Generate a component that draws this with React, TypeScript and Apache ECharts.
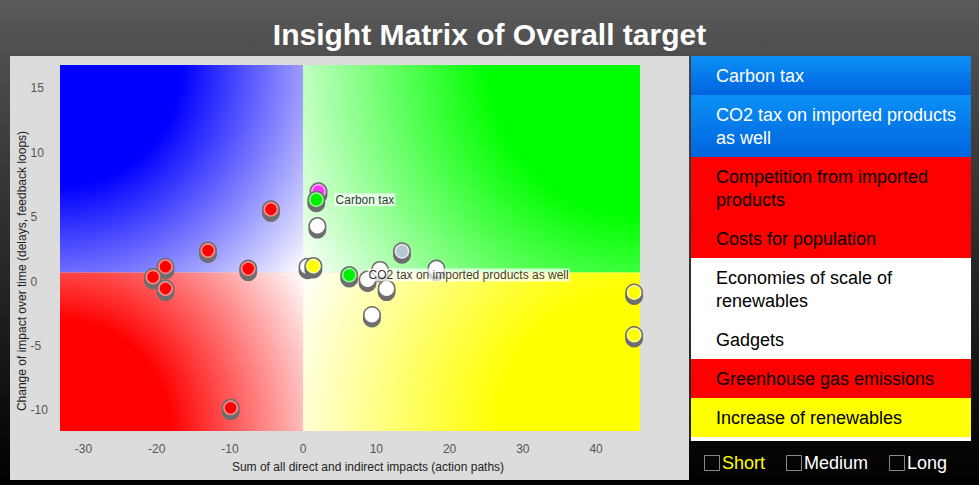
import React, { useEffect, useRef } from 'react';
import * as echarts from 'echarts';

const FONT = '"Liberation Sans", Arial, Helvetica, sans-serif';

const TITLE = 'Insight Matrix of Overall target';
const X_NAME = 'Sum of all direct and indirect impacts (action paths)';
const Y_NAME = 'Change of impact over time (delays, feedback loops)';

const X_RANGE = [-33.2, 46];
const Y_RANGE = [-11.6, 16.8];
const X_TICKS = [-30, -20, -10, 0, 10, 20, 30, 40];
const Y_TICKS = [-10, -5, 0, 5, 10, 15];
const QUADRANT_SPLIT = [0, 0.7];
// top-left, top-right, bottom-left, bottom-right
const QUADRANT_COLORS = ['#0000ff', '#00ff00', '#ff0000', '#ffff00'];

const pointX = [-4.4, -13.0, -18.8, -20.5, -7.5, -18.8, -9.9, 2.1, 1.8, 1.95, 0.6, 1.4, 6.3, 13.5, 10.5, 8.8, 11.4, 18.2, 9.4, 45.2, 45.2];
const pointY = [5.6, 2.4, 1.15, 0.35, 1.0, -0.55, -9.8, 7.0, 6.35, 4.3, 1.15, 1.2, 0.5, 2.35, 0.9, 0.15, -0.55, 1.0, -2.6, -0.85, -4.15];
const pointColor = [
  '#ff0000', '#ff0000', '#ff0000', '#ff0000', '#ff0000', '#ff0000', '#ff0000',
  '#ff33ff', '#00ee00', '#ffffff', '#ffffff', '#ffff00', '#00ee00', '#b4c6ce',
  '#ffffff', '#ffffff', '#ffffff', '#ffffff', '#ffffff', '#ffff00', '#ffff00',
];

const labelNames = ['Carbon tax', 'CO2 tax on imported products as well'];
const labelX = [1.8, 6.3];
const labelY = [6.35, 0.5];

const legendNames = [
  'Carbon tax',
  'CO2 tax on imported products as well',
  'Competition from imported products',
  'Costs for population',
  'Economies of scale of renewables',
  'Gadgets',
  'Greenhouse gas emissions',
  'Increase of renewables',
];
const legendGroups = ['selected', 'selected', 'red', 'red', 'white', 'white', 'red', 'yellow'];
const groupFill: Record<string, any> = {
  selected: new echarts.graphic.LinearGradient(0, 0, 0, 1, [
    { offset: 0, color: '#0b90f6' },
    { offset: 1, color: '#0064de' },
  ]),
  red: '#ff0000',
  white: '#ffffff',
  yellow: '#ffff00',
};
const groupText: Record<string, string> = { selected: '#ffffff', red: '#000000', white: '#000000', yellow: '#000000' };

const horizons = ['Short', 'Medium', 'Long'];
const horizonColors = ['#ffff00', '#ffffff', '#ffffff'];

function mixWhite(c: string, t: number) {
  const h = c.replace('#', '');
  const v = [0, 2, 4].map((i) => parseInt(h.slice(i, i + 2), 16));
  const m = v.map((x) => Math.round(x + (255 - x) * t));
  return `rgb(${m[0]},${m[1]},${m[2]})`;
}

let measureCtx: CanvasRenderingContext2D | null = null;
function measure(text: string, font: string) {
  if (!measureCtx) measureCtx = document.createElement('canvas').getContext('2d');
  measureCtx!.font = font;
  return measureCtx!.measureText(text).width;
}
function wrap(text: string, font: string, maxW: number) {
  const words = text.split(' ');
  const lines: string[] = [];
  let cur = '';
  for (const w of words) {
    const t = cur ? cur + ' ' + w : w;
    if (cur && measure(t, font) > maxW) {
      lines.push(cur);
      cur = w;
    } else cur = t;
  }
  if (cur) lines.push(cur);
  return lines;
}

function buildGraphic() {
  const els: any[] = [];
  els.push({ type: 'rect', z: -10, shape: { x: 10, y: 56, width: 679, height: 424 }, style: { fill: '#dcdcdc' } });
  els.push({
    type: 'text', x: 489.5, y: 34,
    style: { text: TITLE, fill: '#ffffff', font: `bold 30px ${FONT}`, align: 'center', verticalAlign: 'middle' },
  });
  els.push({
    type: 'text', x: 368, y: 466.5,
    style: { text: X_NAME, fill: '#222', font: `12px ${FONT}`, align: 'center', verticalAlign: 'middle' },
  });
  els.push({
    type: 'text', x: 22, y: 271, rotation: Math.PI / 2,
    style: { text: Y_NAME, fill: '#222', font: `12px ${FONT}`, align: 'center', verticalAlign: 'middle' },
  });
  const lx = 691, lw = 280, top = 56;
  const font = `18px ${FONT}`;
  els.push({ type: 'rect', shape: { x: lx, y: top, width: lw, height: 385 }, style: { fill: '#ffffff' } });
  let y = top;
  legendNames.forEach((name, i) => {
    const lines = wrap(name, font, 250);
    const h = 16 + 23 * lines.length;
    const g = legendGroups[i];
    els.push({ type: 'rect', shape: { x: lx, y, width: lw, height: h }, style: { fill: groupFill[g] } });
    els.push({
      type: 'text', x: 716, y: y + 8.5,
      style: { text: lines.join('\n'), fill: groupText[g], font, lineHeight: 23, align: 'left', verticalAlign: 'top' },
    });
    y += h;
  });
  els.push({ type: 'line', shape: { x1: 690, y1: top, x2: 690, y2: 441 }, style: { stroke: '#3a3a3a', lineWidth: 1 } });
  let cx = 704;
  horizons.forEach((h, i) => {
    els.push({ type: 'rect', shape: { x: cx + 0.5, y: 455.5, width: 15, height: 15 }, style: { fill: 'rgba(0,0,0,0)', stroke: '#8a8a8a', lineWidth: 1 } });
    els.push({
      type: 'text', x: cx + 18, y: 463,
      style: { text: h, fill: horizonColors[i], font, align: 'left', verticalAlign: 'middle' },
    });
    cx += 18 + measure(h, font) + 21;
  });
  return els;
}

export default function App() {
  const ref = useRef<HTMLDivElement>(null);
  useEffect(() => {
    if (!ref.current) return;
    const chart = echarts.init(ref.current, undefined, { renderer: 'svg' });
    const option: any = {
      animation: false,
      textStyle: { fontFamily: FONT },
      grid: { left: 60, top: 65, width: 580, height: 366, containLabel: false, outerBoundsMode: 'none' },
      xAxis: {
        type: 'value', min: X_RANGE[0], max: X_RANGE[1],
        axisLine: { show: false }, axisTick: { show: false }, splitLine: { show: false },
        axisLabel: { customValues: X_TICKS, color: '#555', fontSize: 12, margin: 12, fontFamily: FONT },
      },
      yAxis: {
        type: 'value', min: Y_RANGE[0], max: Y_RANGE[1],
        axisLine: { show: false }, axisTick: { show: false }, splitLine: { show: false },
        axisLabel: { customValues: Y_TICKS, color: '#555', fontSize: 12, margin: 29.5, align: 'left', fontFamily: FONT },
      },
      graphic: buildGraphic(),
      series: [
        {
          type: 'custom', z: 1, silent: true,
          data: [[QUADRANT_SPLIT[0], QUADRANT_SPLIT[1]]],
          renderItem: (_p: any, api: any) => {
            const tl = api.coord([X_RANGE[0], Y_RANGE[1]]);
            const br = api.coord([X_RANGE[1], Y_RANGE[0]]);
            const c = api.coord([api.value(0), api.value(1)]);
            const quads = [
              { x0: tl[0], y0: tl[1], x1: c[0], y1: c[1], fx: tl[0], fy: tl[1] },
              { x0: c[0], y0: tl[1], x1: br[0], y1: c[1], fx: br[0], fy: tl[1] },
              { x0: tl[0], y0: c[1], x1: c[0], y1: br[1], fx: tl[0], fy: br[1] },
              { x0: c[0], y0: c[1], x1: br[0], y1: br[1], fx: br[0], fy: br[1] },
            ];
            return {
              type: 'group',
              children: quads.map((q, i) => {
                const w = q.x1 - q.x0, h = q.y1 - q.y0;
                const r = Math.sqrt(w * w + h * h);
                return {
                  type: 'rect',
                  shape: { x: q.x0, y: q.y0, width: w, height: h },
                  style: {
                    fill: new echarts.graphic.RadialGradient(q.fx, q.fy, r, [
                      { offset: 0, color: QUADRANT_COLORS[i] },
                      { offset: 0.38, color: QUADRANT_COLORS[i] },
                      { offset: 1, color: '#ffffff' },
                    ], true),
                  },
                };
              }),
            };
          },
        },
        {
          type: 'custom', z: 3, silent: true,
          data: pointX.map((x, i) => [x, pointY[i]]),
          renderItem: (p: any, api: any) => {
            const pt = api.coord([api.value(0), api.value(1)]);
            const col = pointColor[p.dataIndex];
            return {
              type: 'group',
              children: [
                { type: 'circle', shape: { cx: pt[0], cy: pt[1] + 3.5, r: 9 }, style: { fill: '#6e6e6e' } },
                { type: 'circle', shape: { cx: pt[0], cy: pt[1], r: 9 }, style: { fill: '#6e6e6e' } },
                { type: 'circle', shape: { cx: pt[0], cy: pt[1], r: 6.6 }, style: { fill: col, stroke: mixWhite(col, 0.55), lineWidth: 1.6 } },
              ],
            };
          },
        },
        {
          type: 'scatter', z: 10, silent: true, symbolSize: 1,
          itemStyle: { color: 'rgba(0,0,0,0)' },
          emphasis: { disabled: true },
          data: labelNames.map((n, i) => ({ name: n, value: [labelX[i], labelY[i]] })),
          label: {
            show: true, position: 'right', distance: 17.8, formatter: '{b}',
            color: '#000', fontSize: 12, fontFamily: FONT, lineHeight: 13,
            backgroundColor: 'rgba(255,255,255,0.9)', padding: [0, 1],
          },
        },
      ],
    };
    chart.setOption(option);
    return () => chart.dispose();
  }, []);
  return (
    <div
      ref={ref}
      style={{
        position: 'absolute', left: 0, top: 0, width: 979, height: 485,
        background: 'linear-gradient(180deg, #5a5a5a 0%, #4a4a4a 15%, #000000 100%)',
      }}
    />
  );
}
